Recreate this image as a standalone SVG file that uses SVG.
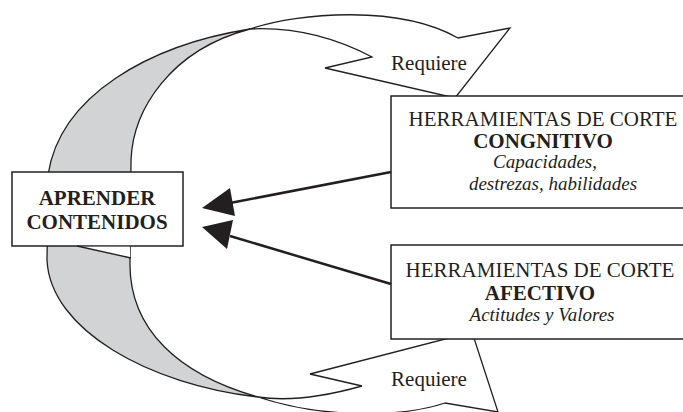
<svg xmlns="http://www.w3.org/2000/svg" width="683" height="412" viewBox="0 0 683 412">
<defs>
<style>
.band{fill:#d1d3d4;stroke:#231f20;stroke-width:1.3;stroke-linejoin:round}
.arr{fill:#ffffff;stroke:#231f20;stroke-width:1.3;stroke-linejoin:miter}
.box{fill:#ffffff;stroke:#231f20;stroke-width:1.5}
.t{font-family:"Liberation Serif","Times New Roman",serif;fill:#231f20;text-anchor:middle}
.n{font-size:21px}
.b{font-size:21px;font-weight:bold}
.i{font-size:19px;font-style:italic}
.conn{stroke:#231f20;stroke-width:2.5;fill:none}
</style>
</defs>
<g id="cycle">
<path class="band" d="M250,29 C150,45 60,95 48,175 L47,260 C50,330 150,385 258,397 C180,375 128,330 130,260 L131,160 C133,110 170,50 250,29 Z"/>
<path class="arr" d="M250,29 C300,12 400,5 458,38 L510,28 L455,98 L325,68 L372,57 C330,35 290,27 250,29 Z"/>
<path class="arr" d="M258,397 C290,402 330,395 362,386 L310,374 L472,332 L498,412 L445,403 C400,418 320,418 258,397 Z"/>
<text class="t n" x="429" y="70">Requiere</text>
<text class="t n" x="429" y="386">Requiere</text>
</g>
<g id="aprender">
<rect class="box" x="12" y="172" width="171" height="74"/>
<path d="M78,246.8 L130,246.8 L130,257.5 Z" fill="#ffffff"/>
<path d="M77,246 L131,258" stroke="#231f20" stroke-width="1.3" fill="none"/>
<text class="t b" x="97" y="205">APRENDER</text>
<text class="t b" x="97" y="229">CONTENIDOS</text>
</g>
<g id="cognitivo">
<rect class="box" x="391" y="96" width="310" height="112"/>
<text class="t n" x="543" y="126">HERRAMIENTAS DE CORTE</text>
<text class="t b" x="543" y="148">CONGNITIVO</text>
<text class="t i" x="545" y="168">Capacidades,</text>
<text class="t i" x="553" y="190">destrezas, habilidades</text>
</g>
<g id="afectivo">
<rect class="box" x="391" y="245" width="310" height="94"/>
<text class="t n" x="540" y="277">HERRAMIENTAS DE CORTE</text>
<text class="t b" x="540" y="300">AFECTIVO</text>
<text class="t i" x="542" y="321">Actitudes y Valores</text>
</g>
<g id="connectors">
<line class="conn" x1="391" y1="172" x2="230" y2="203"/>
<polygon points="202,208 230,188 235,216" fill="#231f20"/>
<line class="conn" x1="391" y1="284" x2="230" y2="236"/>
<polygon points="202,227 233,220 227,249" fill="#231f20"/>
</g>
</svg>
